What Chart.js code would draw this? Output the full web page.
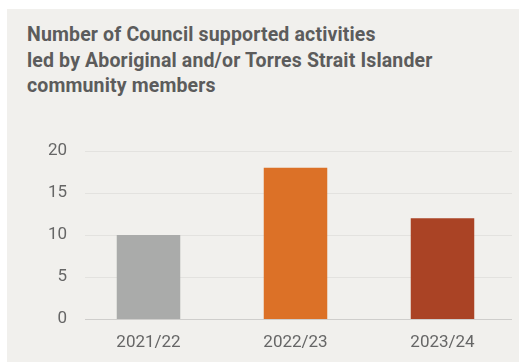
<!DOCTYPE html>
<html>
<head>
<meta charset="utf-8">
<script src="https://cdn.jsdelivr.net/npm/chart.js@4"></script>
<style>
  html, body { margin: 0; padding: 0; background: #fff; }
  #wrap { position: relative; width: 519px; height: 362px; }
  #panel { position: absolute; left: 7px; top: 9px; width: 512px; height: 353px; background: #f1f0ed; }
  #title {
    position: absolute; left: 27px; top: 22px; margin: 0;
    font: bold 19.5px Roboto, sans-serif; line-height: 25.5px; color: #5c5c5c;
    letter-spacing: 0.15px;
  }
  #chart { position: absolute; left: 0; top: 0; }
</style>
</head>
<body>
<div id="wrap">
  <div id="panel"></div>
  <p id="title">Number of Council supported activities<br>led by Aboriginal and/or Torres Strait Islander<br>community members</p>
  <canvas id="chart" width="519" height="362"></canvas>
</div>
<script>
// financial years and activity counts
const years = ['2021/22', '2022/23', '2023/24'];
const activities = [10, 18, 12];
const barColours = ['#aaabaa', '#dc7127', '#aa4325'];
const yTicks = [0, 5, 10, 15, 20];

// horizontal guide lines, a bit shorter than the plot area
const guideLines = {
  id: 'guideLines',
  beforeDatasetsDraw(chart) {
    const ctx = chart.ctx;
    const y = chart.scales.y;
    ctx.save();
    ctx.lineWidth = 1;
    yTicks.forEach(v => {
      const py = Math.round(y.getPixelForValue(v)) + 0.5;
      ctx.strokeStyle = v === 0 ? '#cfcecc' : '#e3e2df';
      ctx.beginPath();
      ctx.moveTo(85, py);
      ctx.lineTo(512, py);
      ctx.stroke();
    });
    ctx.restore();
  }
};

new Chart(document.getElementById('chart'), {
  type: 'bar',
  data: {
    labels: years,
    datasets: [{
      data: activities,
      backgroundColor: barColours,
      barPercentage: 0.432,
      categoryPercentage: 1
    }]
  },
  options: {
    responsive: false,
    animation: false,
    events: [],
    layout: { padding: { top: 151, right: 3, bottom: 0, left: 0 } },
    plugins: { legend: { display: false }, tooltip: { enabled: false } },
    scales: {
      x: {
        afterFit(scale) { scale.height = 43; },
        grid: { display: false, drawTicks: false },
        border: { display: false },
        ticks: { padding: 14, color: '#666', font: { family: 'Roboto', size: 17 } }
      },
      y: {
        min: 0,
        max: 20,
        afterFit(scale) { scale.width = 75; },
        afterBuildTicks(scale) { scale.ticks = yTicks.map(v => ({ value: v })); },
        grid: { display: false, drawTicks: false },
        border: { display: false },
        ticks: { padding: 8, color: '#666', font: { family: 'Roboto', size: 17 } }
      }
    }
  },
  plugins: [guideLines]
});
</script>
</body>
</html>
